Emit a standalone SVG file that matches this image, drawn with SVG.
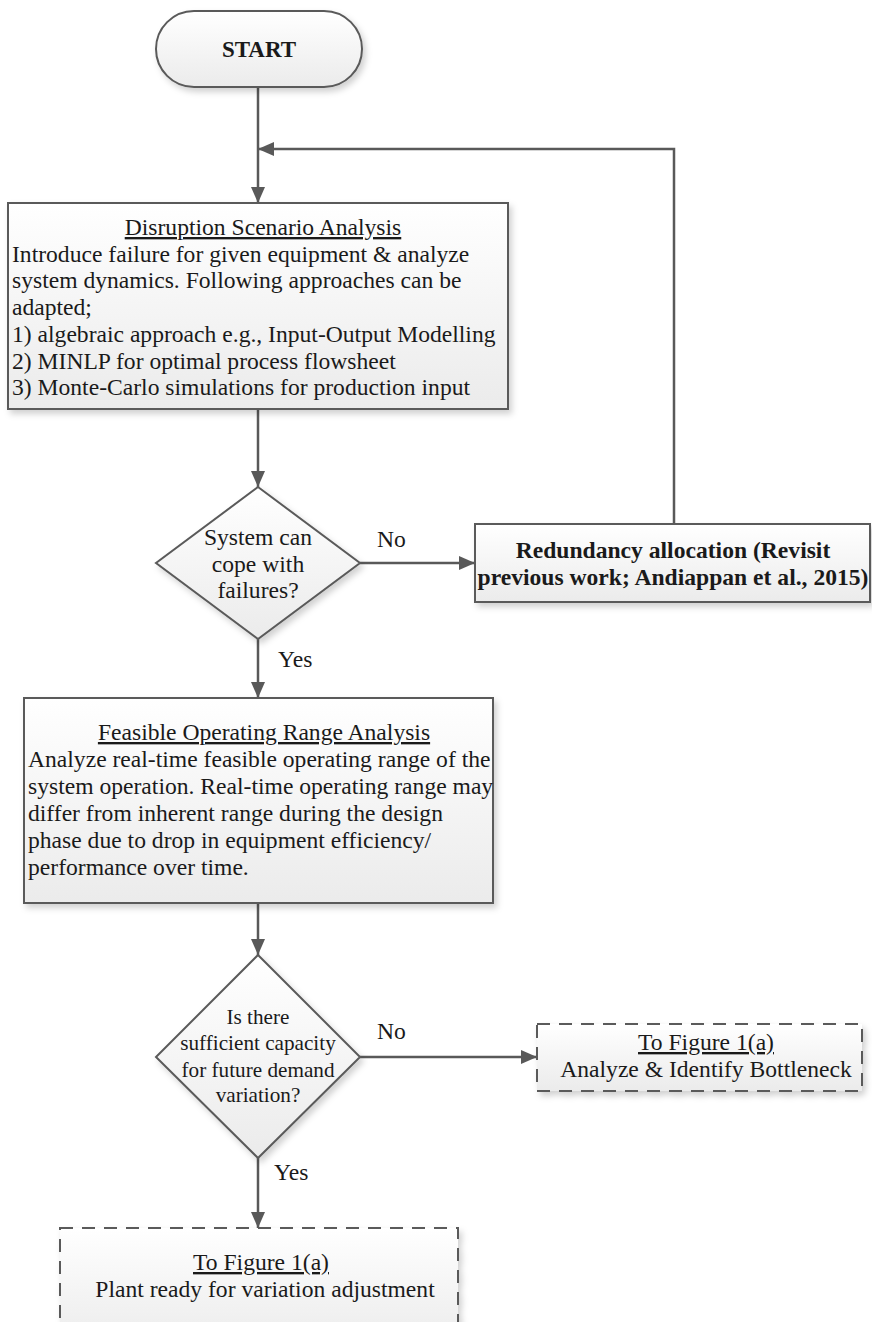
<svg xmlns="http://www.w3.org/2000/svg" width="872" height="1322" viewBox="0 0 872 1322">
<defs>
<linearGradient id="g" x1="0" y1="0" x2="0" y2="1">
<stop offset="0" stop-color="#ffffff"/>
<stop offset="1" stop-color="#ebebeb"/>
</linearGradient>
<filter id="sh" x="-10%" y="-10%" width="125%" height="130%">
<feDropShadow dx="3" dy="4" stdDeviation="3" flood-color="#000" flood-opacity="0.18"/>
</filter>
<marker id="ah" viewBox="0 0 16 14" refX="16" refY="7" markerWidth="16" markerHeight="14" markerUnits="userSpaceOnUse" orient="auto">
<path d="M0,0 L16,7 L0,14 z" fill="#595959"/>
</marker>
<style>
.box{fill:url(#g);stroke:#5a5a5a;stroke-width:2;filter:url(#sh)}
.dbox{fill:url(#g);stroke:#5a5a5a;stroke-width:2;stroke-dasharray:13 9;filter:url(#sh)}
.t{font-family:"Liberation Serif","Times New Roman",serif;font-size:23.6px;fill:#1a1a1a}
.c{text-anchor:middle}
.b{font-weight:bold}
.u{text-decoration:underline}
.s{font-size:21.2px}
.conn{fill:none;stroke:#595959;stroke-width:2.5;marker-end:url(#ah)}
</style>
</defs>

<g id="connectors">
<path class="conn" d="M258,87 L258,203"/>
<path class="conn" d="M674,524 L674,149 L258,149"/>
<path class="conn" d="M258,409 L258,487"/>
<path class="conn" d="M360,563 L475,563"/>
<path class="conn" d="M258,639 L258,698"/>
<path class="conn" d="M258,903 L258,955"/>
<path class="conn" d="M360,1057 L537,1057"/>
<path class="conn" d="M258,1158 L258,1228"/>
<text class="t" x="377" y="547">No</text>
<text class="t" x="278" y="667">Yes</text>
<text class="t" x="377" y="1039">No</text>
<text class="t" x="274" y="1180">Yes</text>
</g>

<g id="start">
<rect class="box" x="156" y="11" width="206" height="76" rx="38" ry="38"/>
<text class="t b c" x="259" y="57" style="font-size:23px">START</text>
</g>

<g id="disruption">
<rect class="box" x="8" y="203" width="500" height="206"/>
<text class="t c u" x="263" y="235">Disruption Scenario Analysis</text>
<text class="t" x="12" y="261.7">Introduce failure for given equipment &amp; analyze</text>
<text class="t" x="12" y="288.4">system dynamics. Following approaches can be</text>
<text class="t" x="12" y="315">adapted;</text>
<text class="t" x="12" y="341.8">1) algebraic approach e.g., Input-Output Modelling</text>
<text class="t" x="12" y="368.5">2) MINLP for optimal process flowsheet</text>
<text class="t" x="12" y="395.2">3) Monte-Carlo simulations for production input</text>
</g>

<g id="decision1">
<polygon class="box" points="258,487 360,563 258,639 156,563"/>
<text class="t c" x="258" y="545">System can</text>
<text class="t c" x="258" y="572">cope with</text>
<text class="t c" x="258" y="598">failures?</text>
</g>

<g id="redundancy">
<rect class="box" x="475" y="524" width="395" height="78"/>
<text class="t b c" x="673" y="558">Redundancy allocation (Revisit</text>
<text class="t b c" x="673" y="585">previous work; Andiappan et al., 2015)</text>
</g>

<g id="feasible">
<rect class="box" x="24" y="698" width="469" height="205"/>
<text class="t c u" x="264" y="740">Feasible Operating Range Analysis</text>
<text class="t" x="28" y="767">Analyze real-time feasible operating range of the</text>
<text class="t" x="28" y="794">system operation. Real-time operating range may</text>
<text class="t" x="28" y="821">differ from inherent range during the design</text>
<text class="t" x="28" y="848">phase due to drop in equipment efficiency/</text>
<text class="t" x="28" y="875">performance over time.</text>
</g>

<g id="decision2">
<polygon class="box" points="258,955 360,1057 258,1158 156,1057"/>
<text class="t c s" x="258" y="1024">Is there</text>
<text class="t c s" x="258" y="1050">sufficient capacity</text>
<text class="t c s" x="258" y="1077">for future demand</text>
<text class="t c s" x="258" y="1102">variation?</text>
</g>

<g id="bottleneck">
<rect class="dbox" x="537" y="1024" width="325" height="67"/>
<text class="t c u" x="706" y="1050">To Figure 1(a)</text>
<text class="t c" x="706" y="1077">Analyze &amp; Identify Bottleneck</text>
</g>

<g id="ready">
<rect class="dbox" x="60" y="1228" width="398" height="120"/>
<text class="t c u" x="261" y="1270">To Figure 1(a)</text>
<text class="t c" x="265" y="1297">Plant ready for variation adjustment</text>
</g>
</svg>
